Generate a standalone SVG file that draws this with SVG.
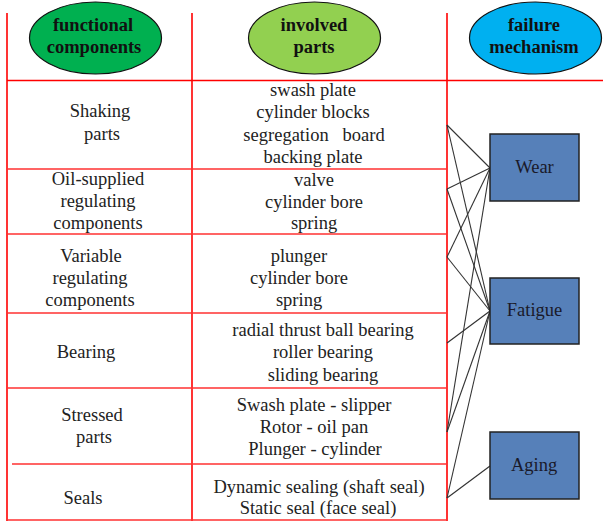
<svg xmlns="http://www.w3.org/2000/svg" width="603" height="521" viewBox="0 0 603 521">
<style>
.grid{stroke:#ff0000;stroke-width:1.6;fill:none}
.grid2{stroke:#ff3030;stroke-width:1.3;fill:none}
.hdr{stroke:#111;stroke-width:1.2}
.ht{font-family:"Liberation Serif","DejaVu Serif",serif;font-weight:bold;font-size:18.5px;fill:#111;text-anchor:middle}
.t{font-family:"Liberation Serif","DejaVu Serif",serif;font-size:18.5px;fill:#222;text-anchor:middle}
.box{fill:#5680B9;stroke:#222;stroke-width:1.5}
.bt{font-family:"Liberation Serif","DejaVu Serif",serif;font-size:18.5px;fill:#1a1a2a;text-anchor:middle}
.c{stroke:#333;stroke-width:1.1;fill:none}
</style>
<rect width="603" height="521" fill="#fff"/>
<g id="grid">
<line class="grid" x1="7" y1="13" x2="7" y2="521"/>
<line class="grid" x1="192" y1="13" x2="192" y2="521"/>
<line class="grid" x1="447" y1="13" x2="447" y2="521"/>
<line class="grid" x1="7" y1="80.5" x2="603" y2="80.5"/>
<line class="grid2" x1="7" y1="169" x2="447" y2="169"/>
<line class="grid2" x1="7" y1="234" x2="447" y2="234"/>
<line class="grid2" x1="7" y1="313" x2="447" y2="313"/>
<line class="grid2" x1="7" y1="388" x2="447" y2="388"/>
<line class="grid2" x1="12" y1="464" x2="447" y2="464"/>
<line class="grid2" x1="7" y1="520" x2="447" y2="520"/>
</g>
<g id="hdr-functional">
<ellipse class="hdr" cx="95.5" cy="38" rx="66" ry="36" fill="#00B050"/>
<text class="ht" x="93" y="31">functional</text>
<text class="ht" x="94" y="53">components</text>
</g>
<g id="hdr-involved">
<ellipse class="hdr" cx="314.5" cy="38" rx="66" ry="36" fill="#92D050"/>
<text class="ht" x="314" y="31">involved</text>
<text class="ht" x="314" y="53">parts</text>
</g>
<g id="hdr-failure">
<ellipse class="hdr" cx="535.5" cy="38" rx="66" ry="36" fill="#00B0F0"/>
<text class="ht" x="534" y="31">failure</text>
<text class="ht" x="534" y="53">mechanism</text>
</g>
<g id="comp-shaking">
<text class="t" x="100" y="117">Shaking</text>
<text class="t" x="102" y="140">parts</text>
</g>
<g id="comp-oil">
<text class="t" x="98" y="185">Oil-supplied</text>
<text class="t" x="98" y="207">regulating</text>
<text class="t" x="98" y="229">components</text>
</g>
<g id="comp-variable">
<text class="t" x="91" y="262">Variable</text>
<text class="t" x="90" y="284">regulating</text>
<text class="t" x="90" y="306">components</text>
</g>
<g id="comp-bearing">
<text class="t" x="86" y="358">Bearing</text>
</g>
<g id="comp-stressed">
<text class="t" x="92" y="421">Stressed</text>
<text class="t" x="94" y="443">parts</text>
</g>
<g id="comp-seals">
<text class="t" x="83" y="504">Seals</text>
</g>
<g id="parts-shaking">
<text class="t" x="313" y="96">swash plate</text>
<text class="t" x="313" y="118">cylinder blocks</text>
<text class="t" x="314" y="141" xml:space="preserve">segregation   board</text>
<text class="t" x="313" y="163">backing plate</text>
</g>
<g id="parts-oil">
<text class="t" x="314" y="186">valve</text>
<text class="t" x="314" y="208">cylinder bore</text>
<text class="t" x="314" y="229">spring</text>
</g>
<g id="parts-variable">
<text class="t" x="299" y="262">plunger</text>
<text class="t" x="299" y="284">cylinder bore</text>
<text class="t" x="299" y="306">spring</text>
</g>
<g id="parts-bearing">
<text class="t" x="323" y="336">radial thrust ball bearing</text>
<text class="t" x="323" y="358">roller bearing</text>
<text class="t" x="323" y="381">sliding bearing</text>
</g>
<g id="parts-stressed">
<text class="t" x="314" y="411">Swash plate - slipper</text>
<text class="t" x="314" y="433">Rotor - oil pan</text>
<text class="t" x="315" y="455">Plunger - cylinder</text>
</g>
<g id="parts-seals">
<text class="t" x="319" y="493">Dynamic sealing (shaft seal)</text>
<text class="t" x="318" y="514">Static seal (face seal)</text>
</g>
<g id="connectors">
<line class="c" x1="447" y1="125" x2="490" y2="168"/>
<line class="c" x1="447" y1="125" x2="490" y2="311"/>
<line class="c" x1="447" y1="189" x2="490" y2="168"/>
<line class="c" x1="447" y1="189" x2="490" y2="311"/>
<line class="c" x1="447" y1="257" x2="490" y2="168"/>
<line class="c" x1="447" y1="257" x2="490" y2="311"/>
<line class="c" x1="447" y1="343" x2="490" y2="311"/>
<line class="c" x1="447" y1="432" x2="490" y2="168"/>
<line class="c" x1="447" y1="432" x2="490" y2="311"/>
<line class="c" x1="447" y1="498" x2="490" y2="311"/>
<line class="c" x1="447" y1="498" x2="490" y2="466"/>
</g>
<g id="fm-wear">
<rect class="box" x="490" y="134" width="89" height="67"/>
<text class="bt" x="534.5" y="173">Wear</text>
</g>
<g id="fm-fatigue">
<rect class="box" x="490" y="278" width="89" height="66"/>
<text class="bt" x="534.5" y="316">Fatigue</text>
</g>
<g id="fm-aging">
<rect class="box" x="490" y="432" width="89" height="67"/>
<text class="bt" x="534" y="471">Aging</text>
</g>
</svg>
